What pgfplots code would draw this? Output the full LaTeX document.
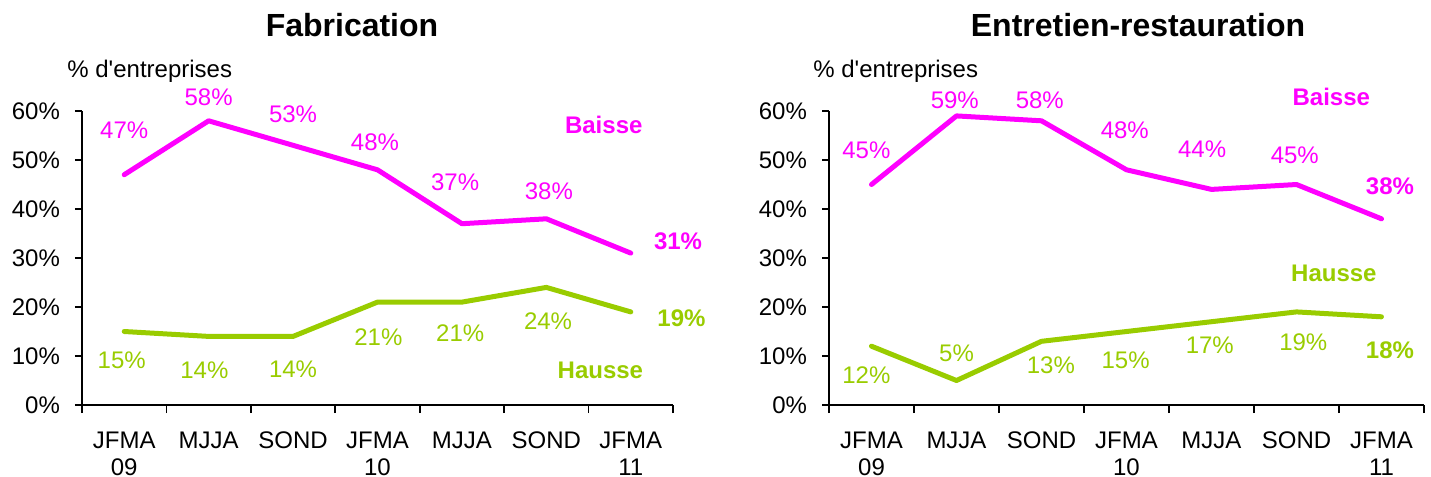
\documentclass[border=0pt]{standalone}
\usepackage{pgfplots}
\pgfplotsset{compat=1.18}
\usepackage{fontspec}
\setmainfont{Liberation Sans}

\definecolor{baisse}{HTML}{FF00FF}
\definecolor{hausse}{HTML}{99CC00}

\tikzset{
  lbl/.style={font=\fontsize{12}{14}\selectfont},
  blbl/.style={font=\fontsize{12}{14}\selectfont\bfseries},
}

\pgfplotsset{
  panel/.style={
    scale only axis,
    height=147pt,
    xmin=0.5, xmax=7.5,
    ymin=0, ymax=60,
    axis x line*=bottom,
    axis y line*=left,
    axis line style={-, line width=1pt, black},
    xtick={1,...,7},
    xticklabels={JFMA\\09,MJJA,SOND,JFMA\\10,MJJA,SOND,JFMA\\11},
    x tick label style={align=center, font=\fontsize{12}{13.5}\selectfont, yshift=-6.5pt},
    minor xtick={0.5,1.5,...,7.5},
    major x tick style={draw=none},
    minor tick length=4pt,
    major tick length=3.5pt,
    tick align=outside,
    tick style={black, line width=0.8pt},
    ytick={0,10,...,60},
    yticklabel={\pgfmathprintnumber{\tick}\%},
    y tick label style={font=\fontsize{12}{14}\selectfont, xshift=-4pt},
    /pgf/number format/assume math mode=true,
    clip=false,
    every axis plot/.append style={line width=2.5pt, line join=round, line cap=round, mark=none},
  },
}

\begin{document}
\begin{tikzpicture}
\useasboundingbox (0,0) rectangle (715.5pt,-238.5pt);

% Fabrication
\begin{axis}[panel, width=295.5pt, at={(41pt,-202.5pt)}, anchor=south west]
\addplot[baisse] coordinates {(1,47) (2,58) (3,53) (4,48) (5,37) (6,38) (7,31)};
\addplot[hausse] coordinates {(1,15) (2,14) (3,14) (4,21) (5,21) (6,24) (7,19)};
\begin{scope}[lbl, text=baisse]
\node at (axis cs:1.0,56.1) {47\%};
\node at (axis cs:2.0,62.9) {58\%};
\node at (axis cs:3.0,59.4) {53\%};
\node at (axis cs:3.97,53.7) {48\%};
\node at (axis cs:4.92,45.4) {37\%};
\node at (axis cs:6.03,43.7) {38\%};
\node[blbl] at (axis cs:7.56,33.5) {31\%};
\node[blbl] at (axis cs:6.68,57.1) {Baisse};
\end{scope}
\begin{scope}[lbl, text=hausse]
\node at (axis cs:0.97,9.2) {15\%};
\node at (axis cs:1.95,7.1) {14\%};
\node at (axis cs:3.0,7.3) {14\%};
\node at (axis cs:4.01,13.9) {21\%};
\node at (axis cs:4.98,14.6) {21\%};
\node at (axis cs:6.02,17.1) {24\%};
\node[blbl] at (axis cs:7.6,17.8) {19\%};
\node[blbl] at (axis cs:6.64,7.1) {Hausse};
\end{scope}
\end{axis}

% Entretien-restauration
\begin{axis}[panel, width=297.5pt, at={(414.5pt,-202.5pt)}, anchor=south west]
\addplot[baisse] coordinates {(1,45) (2,59) (3,58) (4,48) (5,44) (6,45) (7,38)};
\addplot[hausse] coordinates {(1,12) (2,5) (3,13) (4,15) (5,17) (6,19) (7,18)};
\begin{scope}[lbl, text=baisse]
\node at (axis cs:0.94,51.9) {45\%};
\node at (axis cs:1.98,62.2) {59\%};
\node at (axis cs:2.98,62.3) {58\%};
\node at (axis cs:3.98,56.0) {48\%};
\node at (axis cs:4.89,52.2) {44\%};
\node at (axis cs:5.98,50.9) {45\%};
\node[blbl] at (axis cs:7.1,44.7) {38\%};
\node[blbl] at (axis cs:6.41,62.9) {Baisse};
\end{scope}
\begin{scope}[lbl, text=hausse]
\node at (axis cs:0.94,6.0) {12\%};
\node at (axis cs:2.0,10.5) {5\%};
\node at (axis cs:3.11,8.2) {13\%};
\node at (axis cs:3.99,9.2) {15\%};
\node at (axis cs:4.98,12.2) {17\%};
\node at (axis cs:6.08,12.9) {19\%};
\node[blbl] at (axis cs:7.1,11.2) {18\%};
\node[blbl] at (axis cs:6.44,26.9) {Hausse};
\end{scope}
\end{axis}

% titles and axis captions
\node[font=\fontsize{16}{19}\selectfont\bfseries] at (176pt,-12.5pt) {Fabrication};
\node[font=\fontsize{16}{19}\selectfont\bfseries] at (569pt,-12.5pt) {Entretien-restauration};
\node[lbl, anchor=west, inner sep=0pt] at (33.5pt,-35.5pt) {\% d\textquotesingle entreprises};
\node[lbl, anchor=west, inner sep=0pt] at (406.5pt,-35.5pt) {\% d\textquotesingle entreprises};
\end{tikzpicture}
\end{document}
